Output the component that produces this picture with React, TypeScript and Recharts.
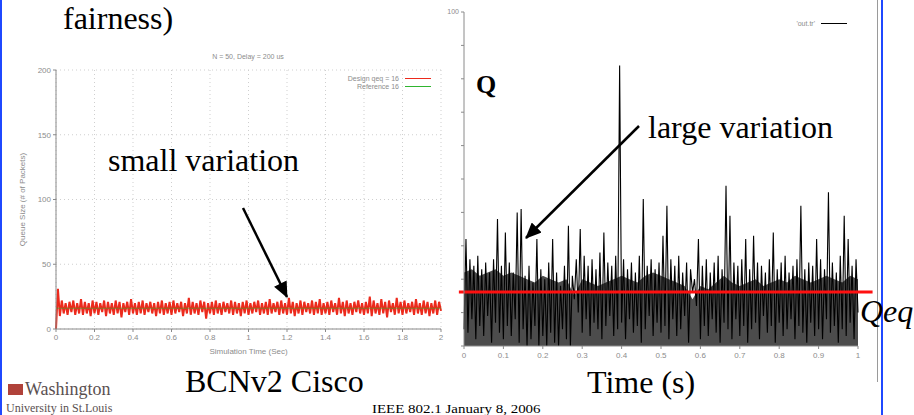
import React from "react";
import {
  LineChart,
  ComposedChart,
  Line,
  Area,
  XAxis,
  YAxis,
  CartesianGrid,
  ReferenceLine,
  Legend,
} from "recharts";

// left plot: BCNv2 Cisco, queue size vs simulation time
const leftStep = 0.01;
const leftTimeTicks = [0, 0.2, 0.4, 0.6, 0.8, 1, 1.2, 1.4, 1.6, 1.8, 2];
const leftQueueTicks = [0, 50, 100, 150, 200];
const leftReference = 16;
const leftQueue = [
  0, 31, 10, 22, 12, 20, 11, 21, 13, 22, 11, 20, 12, 23, 11, 21, 12, 20, 10, 22,
  12, 21, 11, 20, 13, 22, 10, 21, 12, 20, 11, 22, 12, 21, 9, 20, 13, 21, 11, 23,
  12, 20, 11, 21, 12, 22, 11, 20, 13, 21, 12, 20, 10, 21, 12, 22, 11, 20, 12, 21,
  11, 22, 12, 20, 13, 21, 10, 20, 12, 24, 11, 21, 12, 20, 11, 22, 13, 21, 8, 20,
  12, 21, 11, 22, 12, 20, 11, 21, 13, 20, 12, 22, 11, 21, 12, 20, 10, 21, 12, 22,
  11, 20, 12, 21, 13, 22, 11, 20, 12, 21, 11, 23, 12, 20, 13, 21, 11, 22, 12, 20,
  11, 24, 12, 21, 10, 20, 12, 22, 11, 21, 13, 20, 12, 22, 11, 21, 12, 23, 11, 20,
  12, 21, 11, 22, 13, 20, 11, 24, 12, 21, 10, 22, 12, 20, 11, 21, 13, 22, 12, 20,
  11, 21, 12, 25, 10, 22, 12, 20, 11, 23, 12, 21, 9, 22, 13, 20, 11, 24, 12, 21,
  11, 22, 12, 20, 13, 21, 11, 23, 12, 20, 11, 22, 12, 21, 10, 20, 12, 22, 11, 21,
  14,
];

// right plot: queue trace 'out.tr'
const rightStep = 0.005;
const rightTimeTicks = [0, 0.1, 0.2, 0.3, 0.4, 0.5, 0.6, 0.7, 0.8, 0.9, 1];
const rightQueueTicks = [0, 10, 20, 30, 40, 50, 60, 70, 80, 90, 100];
const rightQeq = 16.2;
const rightQueue = [
  5, 32, 4, 26, 8, 24, 2, 27, 6, 23, 3, 25, 9, 22, 1, 26, 7, 38, 4, 24,
  2, 34, 6, 25, 3, 22, 8, 40, 1, 41, 5, 21, 0, 24, 2, 19, 6, 32, 0, 23,
  3, 20, 0, 25, 4, 32, 1, 22, 0, 18, 5, 24, 2, 36, 0, 21, 14, 26, 10, 35,
  4, 27, 8, 24, 3, 26, 7, 23, 5, 28, 2, 34, 6, 25, 9, 24, 3, 27, 5, 84,
  7, 26, 2, 23, 8, 25, 4, 22, 6, 27, 1, 44, 5, 24, 9, 26, 3, 23, 7, 25,
  4, 33, 6, 42, 2, 26, 8, 24, 3, 27, 5, 22, 9, 25, 1, 23, 16, 20, 12, 32,
  2, 24, 6, 26, 3, 22, 8, 25, 4, 27, 1, 23, 7, 48, 5, 39, 2, 25, 8, 24,
  3, 26, 6, 32, 1, 23, 5, 33, 7, 25, 2, 24, 9, 22, 4, 26, 6, 34, 1, 23,
  7, 25, 3, 27, 5, 22, 8, 24, 2, 26, 6, 42, 4, 23, 1, 25, 7, 24, 3, 32,
  5, 26, 2, 23, 8, 46, 4, 25, 6, 22, 1, 27, 5, 39, 3, 32, 7, 24, 2, 26,
  10,
];
// top of the dense black body of the trace, read every 0.02 s
const rightBodyStep = 0.02;
const rightBody = [
  22, 23, 21, 22, 23, 21, 22, 21, 20, 19, 21, 20, 19, 20, 15, 20, 19, 18, 19, 20,
  21, 20, 19, 21, 22, 21, 20, 19, 18, 14, 18, 17, 19, 21, 19, 18, 19, 20, 18, 19,
  20, 19, 21, 20, 19, 20, 21, 20, 19, 21, 20,
];

const leftData = leftQueue.map((q, i) => ({ t: i * leftStep, q, ref: leftReference }));
const rightData = rightQueue.map((q, i) => ({ t: i * rightStep, q }));
const rightBodyData = rightBody.map((body, i) => ({ t: i * rightBodyStep, body }));

const SERIF = '"Liberation Serif", "Times New Roman", serif';
const SANS = '"Liberation Sans", Arial, sans-serif';
const AXIS_GRAY = "#8a8a8a";
const TEXT_GRAY = "#8c8c8c";

const fmtTime = (v: number) => (Number.isInteger(v) ? String(v) : v.toFixed(1));
const blank = () => "";

const keyContent = (props: any) => (
  <div style={{ fontFamily: SANS, fontSize: 7, color: TEXT_GRAY }}>
    {(props.payload || [])
      .filter((p: any) => p.type !== "none")
      .map((p: any) => (
        <div
          key={p.value}
          style={{ display: "flex", justifyContent: "flex-end", alignItems: "center", height: 8 }}
        >
          <span>{p.value}</span>
          <span
            style={{
              display: "inline-block",
              width: 26,
              borderTop: `1px solid ${p.color === "#111" ? "#999" : p.color}`,
              marginLeft: 6,
            }}
          />
        </div>
      ))}
  </div>
);

const queueLabel = (props: any) => {
  const vb = props.viewBox || { x: 20, y: 70, height: 259 };
  const cx = vb.x + 2;
  const cy = vb.y + vb.height / 2;
  return (
    <text
      x={cx}
      y={cy}
      transform={`rotate(-90 ${cx} ${cy})`}
      textAnchor="middle"
      dominantBaseline="central"
      fontSize={8}
      fontFamily={SANS}
      fill={TEXT_GRAY}
    >
      Queue Size (# of Packets)
    </text>
  );
};

const Txt: React.FC<{
  x: number;
  top: number;
  size: number;
  style?: React.CSSProperties;
  children: React.ReactNode;
}> = ({ x, top, size, style, children }) => (
  <div
    style={{
      position: "absolute",
      left: x,
      top,
      fontSize: size,
      lineHeight: `${size}px`,
      fontFamily: SERIF,
      color: "#000",
      whiteSpace: "nowrap",
      ...style,
    }}
  >
    {children}
  </div>
);

export default function App() {
  return (
    <div
      style={{
        position: "absolute",
        left: 0,
        top: 0,
        width: 914,
        height: 415,
        background: "#fff",
        overflow: "hidden",
      }}
    >
      {/* slide borders */}
      <div style={{ position: "absolute", left: 0, top: 0, width: 2, height: 415, background: "#1f48ff" }} />
      <div style={{ position: "absolute", left: 877, top: 0, width: 1, height: 382, background: "#9a9a9a" }} />
      <div style={{ position: "absolute", left: 881, top: 0, width: 2, height: 415, background: "#1f48ff" }} />

      <Txt x={63} top={2} size={32}>fairness)</Txt>

      {/* left chart */}
      <div style={{ position: "absolute", left: 0, top: 0 }}>
        <LineChart
          width={460}
          height={362}
          data={leftData}
          margin={{ top: 70, right: 19, bottom: 13, left: 20 }}
        >
          <CartesianGrid stroke="#cfcfcf" strokeDasharray="1 3" />
          <XAxis
            dataKey="t"
            type="number"
            domain={[0, 2]}
            ticks={leftTimeTicks}
            tickFormatter={fmtTime}
            stroke={AXIS_GRAY}
            tick={{ fontSize: 8, fill: TEXT_GRAY, fontFamily: SANS }}
            tickSize={3}
            tickMargin={2}
            height={20}
            label={{
              value: "Simulation Time (Sec)",
              position: "insideBottom",
              offset: -5,
              fontSize: 8,
              fill: TEXT_GRAY,
              fontFamily: SANS,
            }}
          />
          <XAxis
            xAxisId="top"
            orientation="top"
            type="number"
            domain={[0, 2]}
            ticks={leftTimeTicks}
            tickFormatter={blank}
            stroke={AXIS_GRAY}
            tickSize={3}
            mirror
            height={0}
          />
          <YAxis
            type="number"
            domain={[0, 200]}
            ticks={leftQueueTicks}
            stroke={AXIS_GRAY}
            tick={{ fontSize: 8, fill: TEXT_GRAY, fontFamily: SANS }}
            tickSize={3}
            tickMargin={2}
            width={36}
            label={queueLabel}
          />
          <YAxis
            yAxisId="right"
            orientation="right"
            type="number"
            domain={[0, 200]}
            ticks={leftQueueTicks}
            tickFormatter={blank}
            stroke={AXIS_GRAY}
            tickSize={3}
            mirror
            width={0}
          />
          <Line
            dataKey="q"
            name="Design qeq = 16"
            stroke="#ec2a1c"
            strokeWidth={2}
            dot={false}
            isAnimationActive={false}
          />
          <Line
            dataKey="ref"
            name="Reference 16"
            stroke="#2fb52f"
            strokeWidth={1}
            strokeOpacity={0.55}
            dot={false}
            isAnimationActive={false}
          />
          <Legend
            layout="vertical"
            align="center"
            verticalAlign="middle"
            content={keyContent}
            wrapperStyle={{ top: 74, left: 290, width: 141 }}
          />
        </LineChart>
      </div>
      <div
        style={{
          position: "absolute",
          left: 200,
          top: 53,
          width: 96,
          fontFamily: SANS,
          fontSize: 7,
          color: TEXT_GRAY,
          textAlign: "center",
          whiteSpace: "nowrap",
        }}
      >
        N = 50, Delay = 200 us
      </div>

      {/* right chart */}
      <div style={{ position: "absolute", left: 420, top: 0 }}>
        <ComposedChart
          width={460}
          height={372}
          data={rightData}
          margin={{ top: 12, right: 22, bottom: 10, left: 8 }}
        >
          <XAxis
            dataKey="t"
            type="number"
            domain={[0, 1]}
            ticks={rightTimeTicks}
            tickFormatter={fmtTime}
            stroke={AXIS_GRAY}
            tick={{ fontSize: 8, fill: TEXT_GRAY, fontFamily: SANS }}
            tickSize={3}
            tickMargin={3}
            height={16}
          />
          <XAxis
            xAxisId="top"
            orientation="top"
            type="number"
            domain={[0, 1]}
            ticks={rightTimeTicks}
            tickFormatter={blank}
            stroke={AXIS_GRAY}
            tickSize={3}
            mirror
            height={0}
          />
          <YAxis
            type="number"
            domain={[0, 100]}
            ticks={rightQueueTicks}
            tickFormatter={(v: number) => (v === 100 ? "100" : "")}
            stroke={AXIS_GRAY}
            tick={{ fontSize: 7, fill: TEXT_GRAY, fontFamily: SANS }}
            tickSize={3}
            tickMargin={2}
            width={36}
          />
          <YAxis
            yAxisId="right"
            orientation="right"
            type="number"
            domain={[0, 100]}
            ticks={rightQueueTicks}
            tickFormatter={blank}
            stroke={AXIS_GRAY}
            tickSize={3}
            mirror
            width={0}
          />
          <Area
            data={rightBodyData}
            dataKey="body"
            legendType="none"
            stroke="none"
            fill="#000"
            fillOpacity={0.7}
            isAnimationActive={false}
          />
          <Line
            dataKey="q"
            name="'out.tr'"
            stroke="#000"
            strokeWidth={1.1}
            dot={false}
            isAnimationActive={false}
          />
          <ReferenceLine
            segment={[
              { x: -0.013, y: rightQeq },
              { x: 1.037, y: rightQeq },
            ]}
            stroke="#ff1010"
            strokeWidth={3}
            ifOverflow="visible"
          />
          <Legend
            layout="vertical"
            align="center"
            verticalAlign="middle"
            content={keyContent}
            wrapperStyle={{ top: 19, left: 330, width: 97 }}
          />
        </ComposedChart>
      </div>

      {/* annotations */}
      <Txt x={108} top={144} size={32}>small variation</Txt>
      <Txt x={648} top={111} size={32}>large variation</Txt>
      <Txt x={476} top={72} size={26} style={{ fontWeight: "bold" }}>Q</Txt>
      <Txt x={860} top={295} size={32} style={{ fontStyle: "italic" }}>Qeq</Txt>
      <Txt x={185} top={365} size={32}>BCNv2 Cisco</Txt>
      <Txt x={587} top={366} size={32}>Time (s)</Txt>
      <Txt
        x={372}
        top={402}
        size={13}
        style={{ transform: "scaleX(1.15)", transformOrigin: "left center" }}
      >
        IEEE 802.1 January 8, 2006
      </Txt>

      <svg
        width={914}
        height={415}
        style={{ position: "absolute", left: 0, top: 0, pointerEvents: "none" }}
      >
        <defs>
          <marker
            id="head"
            markerUnits="userSpaceOnUse"
            markerWidth={16}
            markerHeight={14}
            refX={15}
            refY={7}
            orient="auto"
          >
            <path d="M0,0 L16,7 L0,14 Z" fill="#000" />
          </marker>
        </defs>
        <line x1={243} y1={208} x2={287} y2={297} stroke="#000" strokeWidth={2.5} markerEnd="url(#head)" />
        <line x1={639} y1={126} x2={526} y2={238} stroke="#000" strokeWidth={2.5} markerEnd="url(#head)" />
      </svg>

      {/* university logo */}
      <div style={{ position: "absolute", left: 8, top: 384, width: 15, height: 11, background: "#b0423a" }} />
      <Txt x={25} top={380} size={18} style={{ color: "#5a5050" }}>Washington</Txt>
      <Txt x={6} top={402} size={12} style={{ color: "#5a5050" }}>University in St.Louis</Txt>
    </div>
  );
}
